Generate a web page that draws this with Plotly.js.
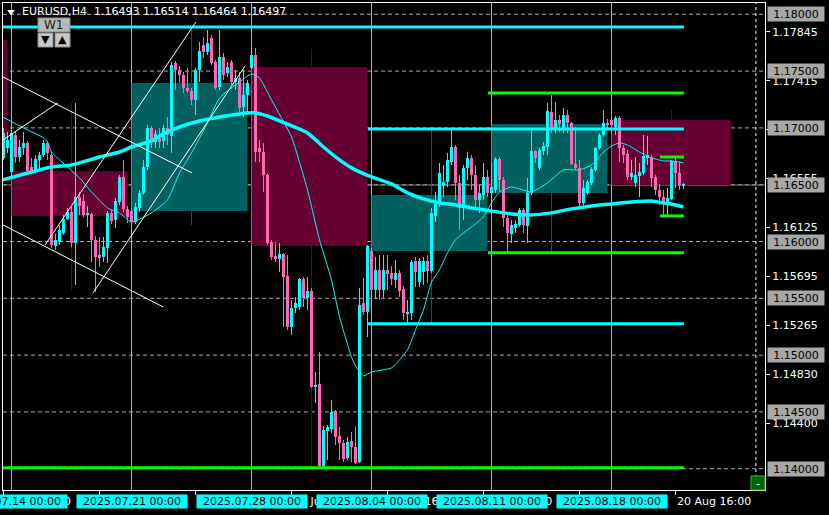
<!DOCTYPE html>
<html><head><meta charset="utf-8">
<script src="https://cdn.plot.ly/plotly-3.0.1.min.js"></script>
<style>html,body{margin:0;padding:0;background:#000;overflow:hidden}#chart{width:829px;height:515px}</style>
</head><body><div id="chart"></div>
<script>
// ---------- DATA (EURUSD H4) ----------
const firstCandle = -2; // candle index of first bar (0 = 2025.07.14 00:00)
const openP = [
1.16736,1.16824,1.16612,1.16938,1.16744,1.16824,1.16868,1.16656,1.16621,1.16718,
1.16762,1.16868,1.16762,1.15961,1.15996,1.16076,1.16199,1.16260,1.15988,1.16392,
1.16357,1.16234,1.16243,1.16014,1.15882,1.15864,1.15944,1.16252,1.16190,1.16348,
1.16568,1.16287,1.16269,1.16172,1.16296,1.16428,1.16656,1.17000,1.16876,1.16912,
1.16885,1.17000,1.16929,1.17572,1.17510,1.17466,1.17352,1.17325,1.17246,1.17510,
1.17730,1.17668,1.17792,1.17580,1.17360,1.17624,1.17484,1.17580,1.17404,1.17440,
1.17184,1.17290,1.17528,1.17642,1.16824,1.16788,1.16586,1.15996,1.15873,1.15847,
1.15891,1.15697,1.15248,1.15416,1.15424,1.15671,1.15504,1.15565,1.14720,1.14747,
1.14025,1.14334,1.14351,1.14510,1.14290,1.14228,1.14096,1.14246,1.14192,1.14060,
1.15460,1.15380,1.15917,1.15574,1.15750,1.15574,1.15750,1.15724,1.15662,1.15724,
1.15583,1.15363,1.15372,1.15829,1.15644,1.15732,1.15829,1.15741,1.16225,1.16340,
1.16489,1.16524,1.16700,1.16832,1.16516,1.16322,1.16648,1.16736,1.16586,1.16366,
1.16410,1.16568,1.16428,1.16454,1.16727,1.16542,1.16208,1.16067,1.16120,1.16146,
1.16278,1.16137,1.16428,1.16797,1.16648,1.16797,1.16832,1.17140,1.17000,1.17070,
1.17000,1.17114,1.17044,1.16683,1.16648,1.16340,1.16428,1.16516,1.16630,1.16824,
1.16938,1.17044,1.17070,1.17008,1.17088,1.16824,1.16771,1.16568,1.16516,1.16577,
1.16604,1.16736,1.16744,1.16568,1.16454,1.16392,1.16340,1.16375,1.16709,1.16604,
1.16493];
const highP = [
1.17000,1.16964,1.17000,1.16964,1.16894,1.16964,1.16885,1.16736,1.16762,1.16788,
1.16894,1.16885,1.16788,1.16067,1.16146,1.16234,1.16296,1.16304,1.17220,1.16436,
1.16419,1.16313,1.16252,1.16049,1.16040,1.16040,1.16269,1.16278,1.16384,1.16586,
1.16718,1.16313,1.16296,1.16340,1.16454,1.16718,1.17026,1.17017,1.16982,1.17000,
1.17026,1.17096,1.17580,1.17589,1.17545,1.17492,1.17528,1.17352,1.17528,1.17756,
1.17800,1.17862,1.17818,1.17598,1.17862,1.17660,1.17580,1.17598,1.17510,1.17492,
1.17510,1.17422,1.17704,1.17704,1.16894,1.16868,1.16604,1.16014,1.15996,1.15988,
1.15900,1.15882,1.15486,1.15512,1.15680,1.15688,1.15688,1.15592,1.14852,1.15028,
1.14378,1.14386,1.14606,1.14518,1.14370,1.14254,1.14282,1.14324,1.14370,1.15592,
1.15680,1.15970,1.15944,1.15864,1.15882,1.15882,1.15882,1.15785,1.15838,1.15750,
1.15609,1.15486,1.15838,1.15864,1.15856,1.15864,1.15882,1.16296,1.16436,1.16692,
1.16674,1.16780,1.16982,1.16850,1.16586,1.16674,1.16788,1.16762,1.16674,1.16498,
1.16692,1.16630,1.16692,1.16744,1.16744,1.16568,1.16252,1.16190,1.16190,1.16296,
1.16296,1.16560,1.16982,1.16806,1.16824,1.16876,1.17220,1.17290,1.17228,1.17114,
1.17176,1.17158,1.17052,1.17008,1.16718,1.16542,1.16542,1.16656,1.16832,1.16956,
1.17158,1.17079,1.17132,1.17105,1.17105,1.16850,1.16806,1.16718,1.16744,1.16692,
1.16938,1.16929,1.16762,1.16586,1.16507,1.16454,1.16472,1.16718,1.16736,1.16700,
1.16514];
const lowP = [
1.16718,1.16780,1.16577,1.16692,1.16700,1.16762,1.16595,1.16595,1.16604,1.16648,
1.16744,1.16718,1.15944,1.15926,1.15970,1.16058,1.16190,1.15952,1.15618,1.16234,
1.16216,1.16128,1.15820,1.15556,1.15776,1.15820,1.15812,1.16155,1.16120,1.16322,
1.16260,1.16164,1.16155,1.16155,1.16260,1.16410,1.16630,1.16824,1.16824,1.16824,
1.16824,1.16850,1.16780,1.17334,1.17396,1.17308,1.17308,1.17202,1.17114,1.17404,
1.17616,1.17642,1.17554,1.17334,1.17334,1.17422,1.17448,1.17378,1.17334,1.17140,
1.17096,1.17140,1.17510,1.16700,1.16700,1.16436,1.15970,1.15838,1.15820,1.15732,
1.15248,1.15222,1.15178,1.15372,1.15398,1.15424,1.15398,1.14712,1.14580,1.14016,
1.14016,1.14078,1.14316,1.14210,1.14078,1.14060,1.14078,1.14060,1.14043,1.14052,
1.15354,1.15160,1.15530,1.15504,1.15486,1.15504,1.15574,1.15618,1.15592,1.15512,
1.15310,1.15284,1.15310,1.15600,1.15600,1.15618,1.15636,1.15724,1.16172,1.16304,
1.16392,1.16480,1.16674,1.16366,1.16102,1.16190,1.16542,1.16454,1.16304,1.16252,
1.16366,1.16392,1.16384,1.16428,1.16436,1.16128,1.15908,1.15988,1.16076,1.16128,
1.16076,1.15988,1.16410,1.16692,1.16630,1.16762,1.16762,1.16956,1.16956,1.16964,
1.16956,1.16956,1.16674,1.16630,1.16304,1.16304,1.16410,1.16498,1.16612,1.16806,
1.16920,1.16982,1.16938,1.16938,1.16700,1.16692,1.16542,1.16542,1.16480,1.16392,
1.16586,1.16674,1.16480,1.16410,1.16322,1.16234,1.16216,1.16366,1.16472,1.16454,
1.16464];
const closeP = [
1.16956,1.16894,1.16956,1.16744,1.16832,1.16868,1.16621,1.16621,1.16727,1.16762,
1.16868,1.16780,1.15970,1.16014,1.16102,1.16199,1.16260,1.15988,1.16392,1.16313,
1.16234,1.16252,1.16014,1.15864,1.15856,1.15952,1.16252,1.16181,1.16357,1.16568,
1.16287,1.16216,1.16172,1.16304,1.16428,1.16656,1.17000,1.16894,1.16947,1.16876,
1.17000,1.16938,1.17554,1.17510,1.17466,1.17352,1.17325,1.17246,1.17510,1.17677,
1.17668,1.17748,1.17572,1.17352,1.17624,1.17466,1.17536,1.17404,1.17440,1.17176,
1.17290,1.17396,1.17642,1.16788,1.16788,1.16586,1.15988,1.15864,1.15847,1.15891,
1.15688,1.15248,1.15416,1.15460,1.15671,1.15504,1.15565,1.14720,1.14738,1.14025,
1.14342,1.14370,1.14502,1.14282,1.14228,1.14087,1.14238,1.14192,1.14052,1.15442,
1.15380,1.15961,1.15574,1.15750,1.15574,1.15750,1.15715,1.15671,1.15724,1.15565,
1.15372,1.15380,1.15820,1.15732,1.15829,1.15829,1.15741,1.16252,1.16331,1.16604,
1.16524,1.16718,1.16832,1.16516,1.16296,1.16648,1.16736,1.16586,1.16366,1.16428,
1.16568,1.16428,1.16480,1.16727,1.16542,1.16208,1.16076,1.16146,1.16155,1.16278,
1.16146,1.16428,1.16797,1.16736,1.16806,1.16841,1.17149,1.17000,1.17070,1.17035,
1.17114,1.17044,1.16683,1.16648,1.16340,1.16472,1.16524,1.16639,1.16824,1.16938,
1.17044,1.17026,1.17026,1.17088,1.16824,1.16762,1.16568,1.16604,1.16586,1.16612,
1.16753,1.16762,1.16560,1.16454,1.16392,1.16348,1.16384,1.16709,1.16604,1.16498,
1.16497];

// slow moving average (thick line)
const maSlowIdx = [-2.2,10,15,22,27,30,35,38,42,47,52,57,61,64,67,74,78,82,85,90,95,99,103,107,111,115,120,125,130,135,140,145,150,155,160,163,166,168];
const maSlowVal = [1.16542,1.16656,1.16674,1.16744,1.16788,1.16832,1.16885,1.16947,1.17008,1.17061,1.17096,1.17123,1.17132,1.17105,1.17061,1.16956,1.16832,1.16718,1.16648,1.16568,1.16507,1.16428,1.16375,1.16340,1.16322,1.16296,1.16269,1.16243,1.16234,1.16252,1.16287,1.16313,1.16331,1.16348,1.16357,1.16340,1.16322,1.16304];
// fast moving average (thin line)
const maFastIdx = [-2.2,3,8,9,10,14,17,20,24,27,30,35,39,42,45,49,52,57,60,62,65,70,74,77,80,82,85,86,88,90,95,99,101,103,105,107,109,111,113,115,118,120,122,125,130,134,138,142,145,148,150,152,154,157,160,163,165,168];
const maFastVal = [1.17096,1.17000,1.16912,1.16876,1.16788,1.16656,1.16560,1.16436,1.16296,1.16252,1.16172,1.16252,1.16366,1.16604,1.16780,1.17044,1.17264,1.17404,1.17475,1.17440,1.17246,1.16920,1.16454,1.16014,1.15662,1.15336,1.14984,1.14905,1.14817,1.14852,1.14888,1.15046,1.15222,1.15398,1.15644,1.15750,1.15900,1.16014,1.16076,1.16128,1.16216,1.16340,1.16436,1.16480,1.16436,1.16516,1.16630,1.16630,1.16674,1.16788,1.16841,1.16868,1.16850,1.16788,1.16736,1.16709,1.16709,1.16692];

// weekly open/close boxes
const weekStart = [-30, 0, 30, 60, 90, 120, 150];
const weekEnd   = [-1, 29, 59, 89, 119, 149, 179.8];
const weekOpen  = [1.17774, 1.16621, 1.16269, 1.17536, 1.15917, 1.16428, 1.17070];
const weekClose = [1.16894, 1.16225, 1.17396, 1.15961, 1.16410, 1.17035, 1.16497];
const weekHigh  = [null, 1.17220, 1.17862, 1.17695, 1.16982, 1.17290, 1.17158];
const weekLow   = [null, 1.15565, 1.16146, 1.14016, 1.15284, 1.15908, 1.16216];
const weekLabels = ['2025.07.14 00:00','2025.07.21 00:00','2025.07.28 00:00','2025.08.04 00:00','2025.08.11 00:00','2025.08.18 00:00'];
const weekLabelIdx = [0, 30, 60, 90, 120, 150];

// horizontal level segments
const levelPrice = [1.17888, 1.16991, 1.15275, 1.17308, 1.15900, 1.16744, 1.16225, 1.14008];
const levelFrom  = [-2.2, 89.1, 89.1, 119.1, 119.1, 162.1, 162.1, -2.2];
const levelTo    = [168.1, 168.1, 168.1, 168.1, 168.1, 168.1, 168.1, 168.1];
const levelKind  = ['c','c','c','g','g','g','g','g'];

// round-number horizontal lines
const roundLevels = [1.18, 1.175, 1.17, 1.165, 1.16, 1.155, 1.15, 1.145, 1.14];

// trend lines
const trendX0 = [-2.125, -2.125, -2.125, 8.4, 20.4];
const trendY0 = [1.17448, 1.16146, 1.16894, 1.15970, 1.15548];
const trendX1 = [45.1, 37.9, 11.6, 46.1, 58.4];
const trendY1 = [1.16604, 1.15424, 1.17220, 1.17932, 1.17545];

// axis labels
const priceTicks = [1.17845, 1.17415, 1.16985, 1.16555, 1.16125, 1.15695, 1.15265, 1.14830, 1.14400];
const timeTickIdx = [-2, 22, 46, 70, 94, 118, 142, 166];
const timeTickText = ['11 Jul 16:00','17 Jul 16:00','23 Jul 16:00','29 Jul 16:00','4 Aug 16:00','8 Aug 16:00','14 Aug 16:00','20 Aug 16:00'];
const futureLineIdx = 186.1;

// ---------- BUILD ----------
const BULL = '#00ffff', BEAR = '#ff69b4', GREEN = '#00ff00', CYAN = '#00ffff';
const MAROON = '#660033', TEAL = '#006060';
const FONT = 'DejaVu Sans, Verdana, sans-serif';
const idx = openP.map((_, k) => firstCandle + k);
const colors = openP.map((o, k) => closeP[k] >= o ? BULL : BEAR);

const wickTrace = {
  type: 'bar', x: idx, base: lowP, y: highP.map((h, k) => h - lowP[k]),
  width: 0.25, marker: {color: colors, line: {width: 0}}, hoverinfo: 'skip'
};
const bodyTrace = {
  type: 'bar', x: idx, base: openP.map((o, k) => Math.min(o, closeP[k])),
  y: openP.map((o, k) => Math.max(Math.abs(closeP[k] - o), 0.00009)),
  width: 0.75, marker: {color: colors, line: {width: 0}}, hoverinfo: 'skip'
};
const slowTrace = {type: 'scatter', mode: 'lines', x: maSlowIdx, y: maSlowVal,
  line: {color: CYAN, width: 3.5, shape: 'spline', smoothing: 0.6}, hoverinfo: 'skip'};
const fastTrace = {type: 'scatter', mode: 'lines', x: maFastIdx, y: maFastVal,
  line: {color: CYAN, width: 1, shape: 'spline', smoothing: 0.5}, hoverinfo: 'skip'};

const X0 = 3, Y0 = 3, PW = 762, PH = 487;
const pxX = px => (px - X0) / PW;
const pxY = py => (Y0 + PH - py) / PH;

const shapes = [];
// weekly boxes + wicks
weekStart.forEach((s, k) => {
  const col = weekClose[k] >= weekOpen[k] ? TEAL : MAROON;
  shapes.push({type: 'rect', layer: 'below', xref: 'x', yref: 'y', x0: s, x1: weekEnd[k],
    y0: weekOpen[k], y1: weekClose[k], fillcolor: col, line: {width: 0}});
  if (weekHigh[k] !== null) {
    shapes.push({type: 'line', layer: 'below', xref: 'x', yref: 'y', x0: s + 15, x1: s + 15,
      y0: weekLow[k], y1: weekHigh[k], line: {color: col, width: 1}});
  }
});
// round level dashed lines
roundLevels.forEach(p => shapes.push({type: 'line', layer: 'below', xref: 'paper', yref: 'y',
  x0: 0, x1: 1, y0: p, y1: p, line: {color: '#a9a9a9', width: 1, dash: '4px,3px'}}));
// bid line
shapes.push({type: 'line', layer: 'below', xref: 'paper', yref: 'y', x0: 0, x1: 1,
  y0: closeP[closeP.length - 1], y1: closeP[closeP.length - 1], line: {color: '#808080', width: 1}});
// week separators
weekLabelIdx.forEach(i => shapes.push({type: 'line', layer: 'below', xref: 'x', yref: 'paper',
  x0: i, x1: i, y0: 0, y1: 1, line: {color: CYAN, width: 1}}));
// future dashed vertical
shapes.push({type: 'line', layer: 'below', xref: 'x', yref: 'paper', x0: futureLineIdx, x1: futureLineIdx,
  y0: 0, y1: 1, line: {color: '#ffffff', width: 1, dash: '3px,3px'}});
// level segments
levelPrice.forEach((p, k) => shapes.push({type: 'line', layer: 'above', xref: 'x', yref: 'y',
  x0: levelFrom[k], x1: levelTo[k], y0: p, y1: p,
  line: {color: levelKind[k] === 'c' ? CYAN : GREEN, width: 3}}));
// trend lines
trendX0.forEach((x, k) => shapes.push({type: 'line', layer: 'above', xref: 'x', yref: 'y',
  x0: x, y0: trendY0[k], x1: trendX1[k], y1: trendY1[k], line: {color: '#ffffff', width: 1}}));
// title triangle
shapes.push({type: 'path', layer: 'above', xref: 'paper', yref: 'paper',
  path: `M ${pxX(7)} ${pxY(10)} L ${pxX(15)} ${pxY(10)} L ${pxX(11)} ${pxY(15)} Z`,
  fillcolor: '#ffffff', line: {width: 0}});
// W1 widget
shapes.push({type: 'rect', layer: 'above', xref: 'paper', yref: 'paper', x0: pxX(38), x1: pxX(70), y0: pxY(18), y1: pxY(32),
  fillcolor: '#b8b8b8', line: {color: '#8c8c8c', width: 1}});
shapes.push({type: 'rect', layer: 'above', xref: 'paper', yref: 'paper', x0: pxX(38), x1: pxX(53), y0: pxY(33), y1: pxY(47),
  fillcolor: '#c8c8c8', line: {color: '#8c8c8c', width: 1}});
shapes.push({type: 'rect', layer: 'above', xref: 'paper', yref: 'paper', x0: pxX(55), x1: pxX(70), y0: pxY(33), y1: pxY(47),
  fillcolor: '#c8c8c8', line: {color: '#8c8c8c', width: 1}});
// green minus button
shapes.push({type: 'rect', layer: 'above', xref: 'paper', yref: 'paper', x0: pxX(751), x1: pxX(765), y0: pxY(476), y1: pxY(490),
  fillcolor: '#006400', line: {color: '#2fbf2f', width: 1}});

const annotations = [];
const last = closeP.length - 1;
annotations.push({xref: 'paper', yref: 'paper', x: pxX(21), y: pxY(12), xanchor: 'left', yanchor: 'middle',
  text: `EURUSD,H4  ${openP[last].toFixed(5)} ${highP[last].toFixed(5)} ${lowP[last].toFixed(5)} ${closeP[last].toFixed(5)}`,
  showarrow: false, borderpad: 0, font: {family: FONT, size: 11, color: '#ffffff'}});
annotations.push({xref: 'paper', yref: 'paper', x: pxX(54), y: pxY(25), xanchor: 'center', yanchor: 'middle',
  text: 'W1', showarrow: false, borderpad: 0, font: {family: FONT, size: 12, color: '#202020'}});
annotations.push({xref: 'paper', yref: 'paper', x: pxX(45.5), y: pxY(40), xanchor: 'center', yanchor: 'middle',
  text: '▼', showarrow: false, borderpad: 0, font: {family: FONT, size: 11, color: '#000000'}});
annotations.push({xref: 'paper', yref: 'paper', x: pxX(62.5), y: pxY(40), xanchor: 'center', yanchor: 'middle',
  text: '▲', showarrow: false, borderpad: 0, font: {family: FONT, size: 11, color: '#000000'}});
annotations.push({xref: 'paper', yref: 'paper', x: pxX(758), y: pxY(483), xanchor: 'center', yanchor: 'middle',
  text: '-', showarrow: false, borderpad: 0, font: {family: FONT, size: 11, color: '#ffffff'}});
// round-level price boxes
roundLevels.forEach(p => annotations.push({xref: 'paper', yref: 'y', x: 1, xshift: 2, y: p,
  xanchor: 'left', yanchor: 'middle', text: p.toFixed(5), width: 56, height: 14, borderpad: 0,
  bgcolor: '#a8a8a8', showarrow: false, font: {family: FONT, size: 11, color: '#000000'}}));
// time labels (white, left aligned at ticks)
timeTickIdx.forEach((i, k) => annotations.push({xref: 'x', yref: 'paper', x: i, y: pxY(502),
  xanchor: 'left', yanchor: 'middle', text: timeTickText[k], showarrow: false, borderpad: 0,
  font: {family: FONT, size: 11, color: '#ffffff'}}));
// week-start labels (cyan boxes)
weekLabelIdx.forEach((i, k) => annotations.push({xref: 'x', yref: 'paper', x: i, y: pxY(501.5),
  xanchor: 'center', yanchor: 'middle', text: weekLabels[k], width: 110, height: 13, borderpad: 0,
  bgcolor: CYAN, showarrow: false, font: {family: FONT, size: 11, color: '#000000'}}));

const layout = {
  width: 829, height: 515,
  margin: {l: 3, r: 64, t: 3, b: 25, pad: 0},
  paper_bgcolor: '#000000', plot_bgcolor: '#000000',
  showlegend: false, barmode: 'overlay', bargap: 0, hovermode: false,
  xaxis: {range: [-2.125, 188.375], showgrid: false, zeroline: false, showline: true, mirror: true,
    linecolor: '#ffffff', linewidth: 1, tickmode: 'array', tickvals: timeTickIdx, ticks: 'outside',
    ticklen: 4, tickcolor: '#ffffff', showticklabels: false, fixedrange: true},
  yaxis: {range: [1.138125, 1.180995], side: 'right', showgrid: false, zeroline: false, showline: true,
    mirror: true, linecolor: '#ffffff', linewidth: 1, tickmode: 'array', tickvals: priceTicks,
    ticktext: priceTicks.map(v => v.toFixed(5)), ticks: 'outside', ticklen: 4, tickcolor: '#ffffff',
    tickfont: {family: FONT, size: 11, color: '#ffffff'}, fixedrange: true},
  shapes: shapes, annotations: annotations
};
Plotly.newPlot('chart', [wickTrace, bodyTrace, slowTrace, fastTrace], layout, {staticPlot: true, displayModeBar: false});
</script></body></html>
